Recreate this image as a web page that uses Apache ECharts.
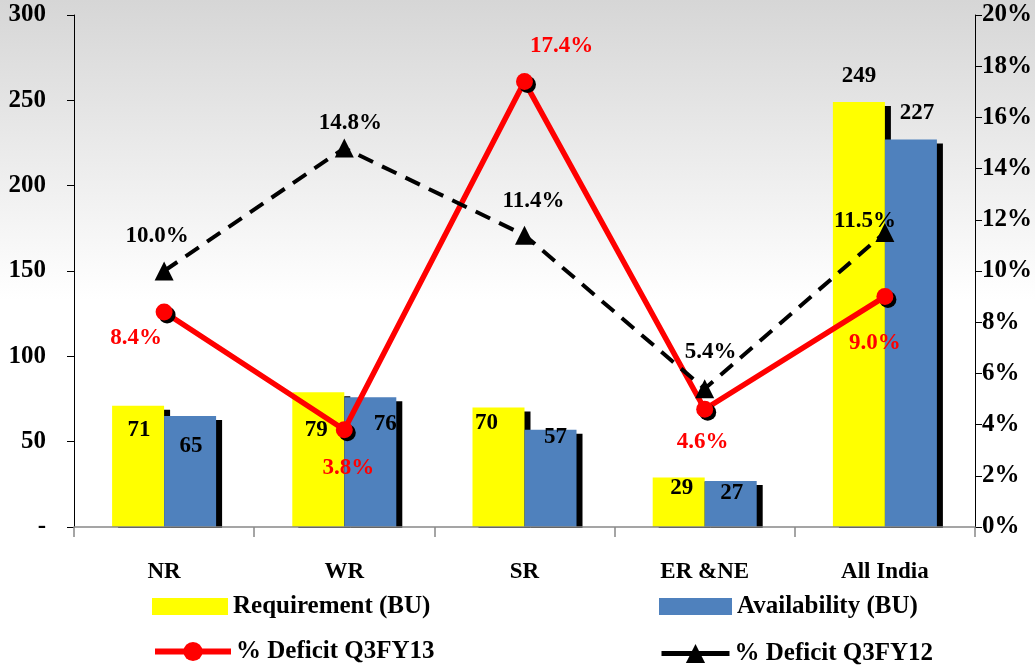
<!DOCTYPE html>
<html>
<head>
<meta charset="utf-8">
<script src="https://cdn.jsdelivr.net/npm/echarts@6/dist/echarts.min.js"></script>
<style>
html,body{margin:0;padding:0;background:#fff;}
#chart{width:1035px;height:667px;}
</style>
</head>
<body>
<div id="chart"></div>
<script>
// ---- data ----
var categories = ['NR', 'WR', 'SR', 'ER &NE', 'All India'];
var requirementBU = [71, 79, 70, 29, 249];
var availabilityBU = [65, 76, 57, 27, 227];
var deficitQ3FY13 = [8.4, 3.8, 17.4, 4.6, 9.0];
var deficitQ3FY12 = [10.0, 14.8, 11.4, 5.4, 11.5];
var leftTicks = [0, 50, 100, 150, 200, 250, 300];
var rightTicks = [0, 2, 4, 6, 8, 10, 12, 14, 16, 18, 20];

// ---- label placement (styling, not data) ----
var reqLabelOffset = [[1, 24], [-2, 38], [-12, 16], [3, 11], [0, -26]];
var availLabelOffset = [[1, 30], [15, 27], [5, 7], [1, 12], [6, -27]];
var d13LabelOffset = [[-28, 26], [4, 38], [37, -35], [-2, 33], [-10, 46]];
var d12LabelOffset = [[-7, -35], [6, -25], [9, -34], [6, -37], [-20, -12]];

var FONT = '"Liberation Serif", "DejaVu Serif", serif';

function barData(values, offsets) {
  return values.map(function (v, i) {
    return { value: v, label: { offset: offsets[i] } };
  });
}
function lineData(values, offsets) {
  return values.map(function (v, i) {
    return { value: v, label: { offset: offsets[i] } };
  });
}

var chart = echarts.init(document.getElementById('chart'));
var legendText = { fontFamily: FONT, fontWeight: 'bold', fontSize: 25, color: '#000' };

var option = {
  backgroundColor: new echarts.graphic.LinearGradient(0, 0, 0, 1, [
    { offset: 0, color: '#d6d6d6' },
    { offset: 0.45, color: '#ffffff' },
    { offset: 1, color: '#ffffff' }
  ]),
  animation: false,
  grid: { left: 74, right: 57, top: 15, bottom: 140, containLabel: false },
  graphic: [
    { type: 'rect', left: 70, top: 528, shape: { width: 912, height: 6 }, style: { fill: '#ffffff' }, z: 3, silent: true }
  ],
  legend: [
    { data: ['Requirement (BU)'], left: 152, top: 594, padding: 0, itemWidth: 76, itemHeight: 17, itemGap: 0, textStyle: legendText, icon: 'rect' },
    { data: ['Availability (BU)'], left: 659, top: 594, padding: 0, itemWidth: 73, itemHeight: 17, itemGap: 0, textStyle: legendText, icon: 'rect' },
    { data: ['% Deficit Q3FY13'], left: 152, top: 639, padding: 0, itemWidth: 76, itemHeight: 24, itemGap: 0, textStyle: legendText,
      lineStyle: { width: 6 }, itemStyle: { shadowColor: 'rgba(0,0,0,0)' } },
    { data: ['% Deficit Q3FY12'], left: 659, top: 641, padding: 0, itemWidth: 68, itemHeight: 24, itemGap: 0, textStyle: legendText,
      lineStyle: { type: 'solid', width: 5 } }
  ],
  xAxis: {
    type: 'category',
    data: categories,
    z: 6,
    axisLine: { lineStyle: { color: '#888', width: 1.5 } },
    axisTick: { show: true, length: 10, lineStyle: { color: '#888', width: 1.5 } },
    axisLabel: { margin: 34, fontFamily: FONT, fontWeight: 'bold', fontSize: 23, color: '#000' },
    splitLine: { show: false }
  },
  yAxis: [
    {
      type: 'value', min: 0, max: 300, interval: 50, z: 6,
      axisLine: { show: true, lineStyle: { color: '#000', width: 1 } },
      axisTick: { show: true, length: 7, lineStyle: { color: '#000' } },
      splitLine: { show: false },
      axisLabel: {
        margin: 28, fontFamily: FONT, fontWeight: 'bold', fontSize: 25, color: '#000',
        formatter: function (v) { return v === 0 ? '-' : String(v); }
      }
    },
    {
      type: 'value', min: 0, max: 20, interval: 2, position: 'right', z: 6,
      axisLine: { show: true, lineStyle: { color: '#000', width: 1 } },
      axisTick: { show: true, length: 7, lineStyle: { color: '#000' } },
      splitLine: { show: false },
      axisLabel: { margin: 7, fontFamily: FONT, fontWeight: 'bold', fontSize: 25, color: '#000', formatter: '{value}%' }
    }
  ],
  series: [
    {
      name: 'Requirement (BU)', type: 'bar', yAxisIndex: 0,
      data: barData(requirementBU, reqLabelOffset),
      barWidth: 52, barGap: '0%',
      itemStyle: { color: '#FFFF00', shadowColor: '#000', shadowBlur: 0, shadowOffsetX: 6, shadowOffsetY: 4 },
      label: { show: true, position: ['50%', 0], align: 'center', verticalAlign: 'middle', fontFamily: FONT, fontWeight: 'bold', fontSize: 23, color: '#000' },
      z: 2
    },
    {
      name: 'Availability (BU)', type: 'bar', yAxisIndex: 0,
      data: barData(availabilityBU, availLabelOffset),
      barWidth: 52, barGap: '0%',
      itemStyle: { color: '#4F81BD', shadowColor: '#000', shadowBlur: 0, shadowOffsetX: 6, shadowOffsetY: 4 },
      label: { show: true, position: ['50%', 0], align: 'center', verticalAlign: 'middle', fontFamily: FONT, fontWeight: 'bold', fontSize: 23, color: '#000' },
      z: 2
    },
    {
      name: '% Deficit Q3FY13', type: 'line', yAxisIndex: 1,
      data: lineData(deficitQ3FY13, d13LabelOffset),
      symbol: 'circle', symbolSize: 17,
      lineStyle: { color: '#FF0000', width: 5.5 },
      itemStyle: { color: '#FF0000', shadowColor: '#000', shadowBlur: 0, shadowOffsetX: 3, shadowOffsetY: 3 },
      label: { show: true, position: ['50%', '50%'], align: 'center', verticalAlign: 'middle', fontFamily: FONT, fontWeight: 'bold', fontSize: 23, color: '#FF0000', formatter: function (p) { return p.value.toFixed(1) + '%'; } },
      z: 4
    },
    {
      name: '% Deficit Q3FY12', type: 'line', yAxisIndex: 1,
      data: lineData(deficitQ3FY12, d12LabelOffset),
      symbol: 'triangle', symbolSize: 19,
      lineStyle: { color: '#000', width: 4, type: [16, 10] },
      itemStyle: { color: '#000' },
      label: { show: true, position: ['50%', '50%'], align: 'center', verticalAlign: 'middle', fontFamily: FONT, fontWeight: 'bold', fontSize: 23, color: '#000', formatter: function (p) { return p.value.toFixed(1) + '%'; } },
      z: 5
    }
  ]
};
chart.setOption(option);
</script>
</body>
</html>
